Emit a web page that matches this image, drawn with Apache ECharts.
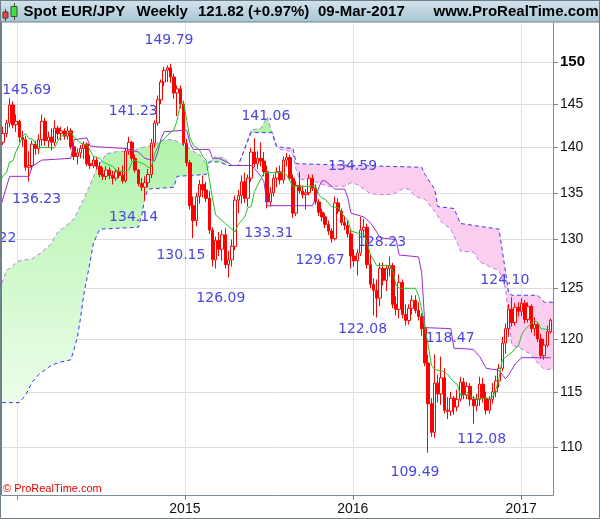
<!DOCTYPE html>
<html><head><meta charset="utf-8">
<script src="https://cdn.jsdelivr.net/npm/echarts@6/dist/echarts.min.js"></script>
<style>html,body{margin:0;padding:0;background:#fff}#c{width:600px;height:519px}</style>
</head><body><div id="c"></div>
<script>
// ---------- data (weekly bars, week 0 = 2013-12-02) ----------
const startDate = '2013-12-02';
const opens  = [140.6,141.6,142.8,144.9,142.6,143.0,141.2,140.9,137.8,138.0,140.4,139.9,140.9,143.0,140.8,141.2,140.6,142.2,141.6,141.9,141.3,141.9,140.1,139.0,139.4,139.9,140.4,138.2,138.0,138.6,137.9,137.0,136.8,137.5,136.9,136.6,137.3,136.9,136.3,139.6,140.6,138.8,137.5,136.0,135.6,136.1,137.0,140.5,142.8,145.5,147.6,149.0,149.3,148.2,146.3,146.8,145.0,140.5,138.3,133.6,132.0,134.6,135.9,135.3,134.4,131.0,127.9,129.9,129.0,130.5,127.4,127.9,129.3,134.2,134.7,136.2,134.4,136.6,139.5,138.2,138.8,138.5,137.3,134.0,135.0,136.6,137.3,136.4,138.6,138.9,136.6,132.8,135.8,135.2,134.8,135.0,136.6,135.5,134.0,132.9,132.4,131.6,130.9,130.1,133.9,133.0,131.8,131.5,130.6,128.3,127.8,128.6,131.0,131.3,127.4,125.4,124.8,124.0,127.0,125.8,127.0,127.3,123.4,122.9,125.6,122.4,121.8,123.0,123.8,122.8,122.2,121.0,117.7,113.9,111.3,115.8,114.8,116.3,113.3,113.2,114.4,113.6,114.3,115.9,114.7,115.5,114.3,113.7,114.3,115.7,114.4,113.3,114.3,115.0,116.0,117.2,119.6,121.0,122.9,121.6,123.1,122.7,123.5,121.9,123.2,121.0,121.4,120.0,118.4,119.4,120.7];
const closes = [141.6,142.8,144.9,142.6,143.0,141.2,140.9,137.8,138.0,140.4,139.9,140.9,143.0,140.8,141.2,140.6,142.2,141.6,141.9,141.3,141.9,140.1,139.0,139.4,139.9,140.4,138.2,138.0,138.6,137.9,137.0,136.8,137.5,136.9,136.6,137.3,136.9,136.3,139.6,140.6,138.8,137.5,136.0,135.6,136.1,137.0,140.5,142.8,145.5,147.6,149.0,149.3,148.2,146.3,146.8,145.0,140.5,138.3,133.6,132.0,134.6,135.9,135.3,134.4,131.0,127.9,129.9,129.0,130.5,127.4,127.9,129.3,134.2,134.7,136.2,134.4,136.6,139.5,138.2,138.8,138.5,137.3,134.0,135.0,136.6,137.3,136.4,138.6,138.9,136.6,132.8,135.8,135.2,134.8,135.0,136.6,135.5,134.0,132.9,132.4,131.6,130.9,130.1,133.9,133.0,131.8,131.5,130.6,128.3,127.8,128.6,131.0,131.3,127.4,125.4,124.8,124.0,127.0,125.8,127.0,127.3,123.4,122.9,125.6,122.4,121.8,123.0,123.8,122.8,122.2,121.0,117.7,113.9,111.3,115.8,114.8,116.3,113.3,113.2,114.4,113.6,114.3,115.9,114.7,115.5,114.3,113.7,114.3,115.7,114.4,113.3,114.3,115.0,116.0,117.2,119.6,121.0,122.9,121.6,123.1,122.7,123.5,121.9,123.2,121.0,121.4,120.0,118.4,119.4,120.7,121.82];
const lows   = [140.3,141.2,142.3,142.2,141.8,140.6,140.1,137.4,136.23,137.5,139.2,139.3,140.2,140.2,140.0,139.7,140.2,140.9,140.8,140.9,140.9,139.8,138.6,138.1,138.8,138.7,137.9,137.6,137.7,137.6,136.7,136.4,136.4,136.5,135.9,136.3,136.6,136.0,136.1,139.2,138.5,137.2,135.7,135.2,134.14,135.6,136.6,140.0,142.5,145.0,147.1,147.6,147.5,145.6,143.6,144.5,140.2,137.9,133.2,130.15,131.4,133.8,134.5,134.0,130.6,127.2,127.0,128.3,127.8,127.0,126.09,127.2,128.9,132.8,133.8,133.9,133.5,136.2,137.8,137.6,137.9,136.8,133.31,133.5,134.6,135.6,135.9,136.0,137.9,136.3,132.3,132.5,134.9,134.4,133.2,134.7,135.2,133.7,132.5,131.9,131.2,130.5,129.67,129.9,132.7,131.5,131.0,130.2,127.0,127.2,126.3,128.3,130.2,127.0,125.0,122.3,122.08,123.2,125.3,124.7,126.2,123.0,122.3,122.0,122.0,121.3,121.4,122.4,122.5,121.8,120.3,117.4,109.49,110.9,110.8,114.0,113.8,113.0,112.5,112.8,112.9,113.2,114.1,114.3,114.3,113.7,112.08,113.2,113.7,114.0,112.9,113.0,113.9,114.5,115.4,116.9,118.6,120.2,121.2,121.3,122.2,122.2,121.5,121.6,120.6,120.3,119.7,118.1,118.0,119.2,120.5];
const highs  = [142.4,143.2,145.69,145.3,143.8,143.2,141.9,141.3,139.6,140.8,140.8,141.5,143.8,143.4,141.8,142.2,143.1,142.5,142.4,142.2,142.4,142.2,140.5,139.9,140.3,140.7,140.6,139.2,139.0,139.0,138.4,137.8,137.9,137.8,137.4,137.6,137.8,138.0,140.0,141.23,140.8,139.2,137.6,136.6,136.8,137.6,141.0,143.1,146.0,147.9,149.4,149.6,149.79,148.6,147.2,147.2,145.4,141.0,138.6,134.6,135.0,136.4,136.9,136.2,135.2,131.3,130.3,130.8,131.0,131.2,128.8,130.0,134.7,135.3,136.9,137.2,137.0,140.0,141.06,139.6,140.6,139.5,138.0,135.6,137.0,137.8,138.0,139.0,139.4,139.2,137.0,136.3,137.3,135.8,135.4,137.0,137.0,135.9,134.3,133.3,132.8,132.0,131.2,134.59,134.4,133.3,132.5,132.0,131.0,129.0,129.0,132.4,132.2,131.7,128.5,126.0,125.9,127.6,127.6,127.4,128.23,127.6,124.2,126.4,125.9,123.4,123.4,124.3,124.3,123.6,122.5,121.3,118.5,114.4,118.5,116.6,118.3,117.2,114.5,115.0,114.6,115.2,116.4,116.3,115.9,115.8,114.6,114.8,116.4,116.3,115.0,114.6,115.8,116.5,117.6,120.2,121.5,123.4,124.10,123.5,123.6,124.0,123.8,123.6,123.4,122.1,121.6,120.5,120.0,121.3,122.0];

// indicator lines: [week, price]
const tenkan = [[-1,136.2],[0,136.9],[1,137.2],[2,138.4],[3,138.5],[4,139.6],[5,140.3],[6,141.3],[7,141.6],[8,141.0],[9,141.0],[10,140.5],[11,140.1],[12,140.0],[16,140.0],[17,140.8],[18,141.3],[19,141.4],[21,141.8],[22,141.2],[23,140.9],[24,140.5],[26,140.3],[27,139.7],[28,139.0],[30,138.8],[31,138.4],[32,138.2],[34,137.9],[35,137.5],[36,137.4],[38,137.3],[39,137.5],[40,138.4],[41,138.6],[42,138.4],[44,138.1],[45,137.8],[46,137.8],[47,139.3],[48,140.1],[49,140.7],[50,141.0],[51,141.4],[53,142.0],[54,143.1],[55,145.0],[56,145.2],[57,143.1],[58,141.1],[59,140.3],[61,139.7],[62,139.0],[63,138.6],[64,136.5],[65,134.4],[66,132.6],[67,132.3],[69,131.7],[70,131.4],[72,130.8],[73,131.6],[75,132.4],[76,133.4],[77,133.5],[78,135.1],[80,136.5],[81,137.2],[87,137.2],[88,137.0],[89,136.3],[90,135.7],[97,135.7],[98,134.8],[99,134.4],[100,134.3],[102,133.5],[104,133.4],[105,132.9],[106,132.4],[107,132.1],[108,130.9],[110,130.7],[112,130.5],[113,129.7],[114,128.5],[116,127.3],[120,127.3],[121,126.8],[122,125.3],[123,125.0],[128,125.0],[129,124.3],[130,122.8],[131,121.0],[132,119.4],[133,117.5],[134,117.1],[135,117.0],[137,116.9],[138,116.6],[140,115.9],[141,115.7],[142,114.7],[143,114.7],[144,115.0],[145,114.6],[146,114.4],[151,114.4],[152,114.5],[153,115.2],[154,116.3],[155,118.0],[157,118.5],[158,118.7],[159,119.1],[160,119.3],[161,120.4],[162,120.9],[164,121.5],[165,121.8],[166,121.6],[167,121.0],[169,120.9],[170,120.9]];
const kijun = [[-1,133.3],[2,136.8],[8,136.8],[9,137.9],[12,138.6],[21,138.8],[22,140.9],[26,141.1],[27,140.2],[29,140.1],[38,139.9],[42,139.5],[44,138.8],[47,138.5],[48,139.5],[49,141.0],[50,141.8],[57,142.0],[58,140.5],[59,139.8],[64,139.8],[65,138.8],[67,138.8],[70,138.3],[71,138.0],[77,138.0],[78,137.7],[80,136.8],[81,136.2],[82,133.6],[96,133.6],[97,134.3],[98,135.6],[99,136.3],[100,136.3],[103,135.4],[106,135.4],[107,134.5],[108,132.8],[112,132.4],[114,131.8],[116,130.8],[117,130.2],[122,130.0],[123,128.4],[129,128.2],[130,126.5],[131,121.1],[139,121.0],[140,119.1],[146,119.0],[148,118.3],[150,117.2],[154,117.0],[156,116.2],[157,116.6],[159,117.6],[161,118.2],[170,118.2]];
const senkouA = [[-0.4,125.5],[1,126.8],[5,127.8],[9,128.0],[12,128.7],[15,129.6],[16,130.3],[17,130.8],[19,131.3],[22,132.2],[25,134.3],[27,135.9],[29,137.6],[32,139.3],[36,139.6],[40,139.6],[44,140.1],[47,140.3],[50,140.9],[53,140.9],[56,140.3],[59,139.6],[61,139.2],[63,138.2],[64,138.4],[66,139.0],[69,138.8],[70,138.0],[73,138.0],[77,142.0],[80,142.2],[82,143.5],[83,142.3],[83.5,141.7],[84,141.0],[84.5,140.3],[86,139.8],[89,139.6],[90,139.2],[91,137.5],[92,136.5],[96,136.3],[101,135.7],[106,135.7],[108,136.1],[110,135.9],[112,135.4],[114,134.9],[117,134.8],[121,134.8],[124,135.4],[126,135.4],[128,134.6],[131,134.3],[134,133.0],[136,131.9],[139,131.1],[141,129.7],[142,128.8],[146,128.7],[148,127.7],[151,127.2],[154,126.8],[156,125.0],[158,119.4],[160,119.2],[164,118.5],[166,117.7],[168,117.1],[170.8,117.1]];
const senkouB = [[-0.4,114.0],[5,114.0],[7,114.7],[9,115.9],[11,116.6],[15,117.5],[18,117.8],[21,118.0],[22,119.0],[23,120.1],[24,122.0],[25,124.3],[26,126.0],[27,127.7],[28,129.6],[30,131.1],[42,131.3],[43,132.5],[44,134.5],[45,135.4],[53,135.6],[54,136.8],[63,137.0],[64,138.4],[67,138.4],[70,138.0],[73,138.0],[77,141.7],[83.5,141.7],[84,141.7],[85,140.1],[90,139.9],[91,138.2],[130,137.8],[131,137.0],[134,135.4],[135,133.5],[140,133.3],[142,131.7],[154,131.1],[157,124.5],[158,124.3],[166,124.3],[168,123.6],[170.8,123.6]];
const cloudRegions = [[-0.4, 83.5, 'bull'], [83.5, 170.8, 'bear']];

// price annotations: [week, price level of the text, text]
const annWeeks  = [7.3, 51.5, 40.4, 10.4, 40.5, 55.2, 67.6, 82.5, 81.6, 108.5, 98.4, 117.5, 111.6, 138.8, 155.8, 148.6, 127.9, 1.34];
const annPrices = [146.65, 152.68, 144.11, 134.28, 132.4, 128.4, 124.0, 130.66, 143.53, 137.94, 127.81, 129.68, 120.96, 120.06, 125.76, 110.67, 107.74, 130.1];
const annTexts  = ['145.69','149.79','141.23','136.23','134.14','130.15','126.09','133.31','141.06','134.59','129.67','128.23','122.08','118.47','124.10','112.08','109.49','22'];

const priceTicks = [110,115,120,125,130,135,140,145,150];
const yearTicks  = ['2014-01-01','2015-01-01','2016-01-01','2017-01-01'];
const yearLabels = ['2015-01-01','2016-01-01','2017-01-01'];

// ---------- build ----------
const DAY = 86400000, WEEK = 7 * DAY;
const T0 = Date.parse(startDate + 'T00:00:00Z');
const wt = w => T0 + w * WEEK;
const L = Math.log;
const ts = d => Date.parse(d + 'T00:00:00Z');

const candleData = opens.map((o, i) => [wt(i), L(o), L(closes[i]), L(lows[i]), L(highs[i])]);
const toLine = arr => arr.map(p => [wt(p[0]), L(p[1])]);

const greenFill = new echarts.graphic.LinearGradient(0, 0, 0, 1, [
  {offset: 0, color: '#adf3a6'}, {offset: 1, color: '#ecfdea'}
]);
const FONT = '"Liberation Sans", Arial, sans-serif';

const chart = echarts.init(document.getElementById('c'), null, {renderer: 'canvas'});
chart.setOption({
  animation: false,
  backgroundColor: '#ffffff',
  grid: {left: 2, right: 47, top: 23, bottom: 24, containLabel: false},
  xAxis: {
    type: 'value', scale: true,
    min: wt(-0.373), max: wt(170.75),
    axisLine: {onZero: false, lineStyle: {color: '#7b8a94', width: 1}},
    axisTick: {show: true, length: 5, customValues: yearTicks.map(ts), lineStyle: {color: '#7b8a94'}},
    axisLabel: {
      customValues: yearLabels.map(ts), margin: 7,
      color: '#111', fontSize: 14, fontFamily: FONT,
      formatter: v => String(new Date(v).getUTCFullYear())
    },
    splitLine: {show: true, lineStyle: {color: '#e2e2e2', width: 1}}
  },
  yAxis: {
    type: 'value', position: 'right', scale: true,
    min: L(105.82), max: L(154.79),
    axisLine: {show: true, onZero: false, lineStyle: {color: '#7b8a94', width: 1}},
    axisTick: {show: true, length: 5, customValues: priceTicks.map(L), lineStyle: {color: '#7b8a94'}},
    axisLabel: {
      customValues: priceTicks.map(L), margin: 7,
      color: '#111', fontSize: 14, fontFamily: FONT,
      formatter: v => { const p = Math.round(Math.exp(v)); return p === 150 ? '{b|150}' : String(p); },
      rich: {b: {fontWeight: 'bold', fontSize: 15, color: '#000', fontFamily: FONT}}
    },
    splitLine: {show: true, lineStyle: {color: '#dedede', width: 1}}
  },
  series: [
    {
      type: 'custom', name: 'cloud', silent: true, clip: true, z: 1,
      data: cloudRegions.map(r => [wt(r[0]), L(130)]),
      renderItem: function (params, api) {
        const r = cloudRegions[params.dataIndex];
        const inR = p => p[0] >= r[0] - 1e-9 && p[0] <= r[1] + 1e-9;
        const top = senkouA.filter(inR);
        const bot = senkouB.filter(inR).slice().reverse();
        const pts = top.concat(bot).map(p => api.coord([wt(p[0]), L(p[1])]));
        return {type: 'polygon', shape: {points: pts},
          style: {fill: r[2] === 'bull' ? greenFill : '#fbcdee', stroke: null}};
      }
    },
    {type: 'line', name: 'Senkou A', data: toLine(senkouA), showSymbol: false, symbol: 'none', z: 2,
      lineStyle: {color: '#b87ce8', width: 1, type: [4, 3]}},
    {type: 'line', name: 'Senkou B', data: toLine(senkouB), showSymbol: false, symbol: 'none', z: 2,
      lineStyle: {color: '#3a3aee', width: 1, type: [4, 3]}},
    {
      type: 'candlestick', name: 'EUR/JPY', data: candleData, barWidth: 3, z: 3,
      itemStyle: {color: '#ffffff', color0: '#ff0000', borderColor: '#ff0000', borderColor0: '#ff0000', borderWidth: 1}
    },
    {type: 'line', name: 'Kijun', data: toLine(kijun), showSymbol: false, symbol: 'none', z: 4,
      lineStyle: {color: '#9a2ccc', width: 1}},
    {type: 'line', name: 'Tenkan', data: toLine(tenkan), showSymbol: false, symbol: 'none', z: 4,
      lineStyle: {color: '#1fc41f', width: 1}},
    {
      type: 'scatter', name: 'labels', silent: true, z: 6, symbol: 'circle', symbolSize: 0,
      itemStyle: {color: 'rgba(0,0,0,0)'},
      data: annWeeks.map((w, i) => [wt(w), L(annPrices[i])]),
      label: {show: true, position: 'inside', color: '#4848dc', fontSize: 14, opacity: 1,
        fontFamily: 'DejaVu Sans, sans-serif', formatter: p => annTexts[p.dataIndex]}
    }
  ],
  graphic: [
    {type: 'rect', z: 10, shape: {x: 0, y: 0, width: 600, height: 22},
      style: {fill: new echarts.graphic.LinearGradient(0, 0, 0, 1, [{offset: 0, color: '#d5e4ed'}, {offset: 1, color: '#a8c4d4'}]), stroke: '#6f808a', lineWidth: 1}},
    {type: 'line', z: 11, shape: {x1: 5.5, y1: 9, x2: 5.5, y2: 21}, style: {stroke: '#444', lineWidth: 1}},
    {type: 'rect', z: 12, shape: {x: 3, y: 12, width: 5, height: 6}, style: {fill: '#ee4444', stroke: '#553333', lineWidth: 1}},
    {type: 'line', z: 11, shape: {x1: 14.5, y1: 3, x2: 14.5, y2: 20}, style: {stroke: '#444', lineWidth: 1}},
    {type: 'rect', z: 12, shape: {x: 11, y: 6.5, width: 6, height: 10}, style: {fill: '#44dd44', stroke: '#335533', lineWidth: 1}},
    {type: 'text', z: 12, x: 23.5, y: 12, style: {text: 'Spot EUR/JPY', fill: '#000', font: 'bold 15px ' + FONT, verticalAlign: 'middle'}},
    {type: 'text', z: 12, x: 136.5, y: 12, style: {text: 'Weekly', fill: '#000', font: 'bold 15px ' + FONT, verticalAlign: 'middle'}},
    {type: 'text', z: 12, x: 198, y: 12, style: {text: '121.82 (+0.97%)', fill: '#000', font: 'bold 15px ' + FONT, verticalAlign: 'middle'}},
    {type: 'text', z: 12, x: 318, y: 12, style: {text: '09-Mar-2017', fill: '#000', font: 'bold 15px ' + FONT, verticalAlign: 'middle'}},
    {type: 'text', z: 12, x: 433.5, y: 12, style: {text: 'www.ProRealTime.com', fill: '#000', font: 'bold 15px ' + FONT, verticalAlign: 'middle'}},
    {type: 'text', z: 12, x: 3, y: 489, style: {text: '\u00a9 ProRealTime.com', fill: '#e00000', font: '11px ' + FONT, verticalAlign: 'middle'}},
    {type: 'rect', z: 13, shape: {x: 0.5, y: 0.5, width: 599, height: 518}, style: {fill: null, stroke: '#6f808a', lineWidth: 1}},
    {type: 'line', z: 13, shape: {x1: 1.5, y1: 22, x2: 1.5, y2: 495}, style: {stroke: '#6f808a', lineWidth: 1}}
  ]
});
</script></body></html>
